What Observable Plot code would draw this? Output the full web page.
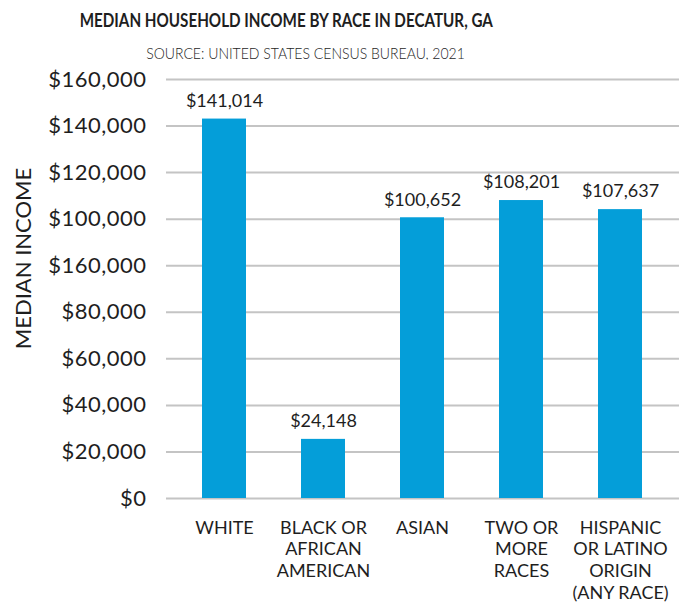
<!DOCTYPE html>
<html>
<head>
<meta charset="utf-8">
<script src="https://cdn.jsdelivr.net/npm/d3@7"></script>
<script src="https://cdn.jsdelivr.net/npm/@observablehq/plot@0.6"></script>
<style>
  html, body { margin: 0; padding: 0; background: #fff; }
  body { width: 679px; height: 602px; position: relative; font-family: Lato, "Noto Sans", sans-serif; color: #1e1e1e; overflow: hidden; }
  #title { position: absolute; left: 0; width: 572px; top: 8px; text-align: center; font-weight: 700; font-size: 19px; line-height: 24px; white-space: nowrap; }
  #subtitle { position: absolute; left: 0; width: 612px; top: 42px; text-align: center; font-weight: 300; font-size: 16.5px; line-height: 22px; white-space: nowrap; }
  #title span { display: inline-block; transform: scaleX(0.80); transform-origin: center; }
  #subtitle span { display: inline-block; transform: scaleX(0.85); transform-origin: center; }
  #chart { position: absolute; left: 0; top: 60px; }
  #chart g[aria-label="y-axis tick label"] text { letter-spacing: 0.5px; }
</style>
</head>
<body>
<div id="title"><span>MEDIAN HOUSEHOLD INCOME BY RACE IN DECATUR, GA</span></div>
<div id="subtitle"><span>SOURCE: UNITED STATES CENSUS BUREAU, 2021</span></div>
<div id="chart"></div>
<script>
// Categories (axis labels, with line breaks as in the reference)
const categories = [
  "WHITE",
  "BLACK OR\nAFRICAN\nAMERICAN",
  "ASIAN",
  "TWO OR\nMORE\nRACES",
  "HISPANIC\nOR LATINO\nORIGIN\n(ANY RACE)"
];
// Bar heights as drawn in the picture (read against the gridlines)
const barValues = [163000, 25400, 120600, 128000, 124100];
// Value labels printed above the bars
const valueLabels = ["$141,014", "$24,148", "$100,652", "$108,201", "$107,637"];
// Y gridline positions and their printed labels (as printed in the reference)
const yTicks = [0, 20000, 40000, 60000, 80000, 100000, 120000, 140000, 160000, 180000];
const yTickLabels = ["$0", "$20,000", "$40,000", "$60,000", "$80,000", "$160,000", "$100,000", "$120,000", "$140,000", "$160,000"];
const yTitle = "MEDIAN INCOME";

const data = categories.map((c, i) => ({cat: c, value: barValues[i], label: valueLabels[i]}));

const chart = Plot.plot({
  width: 679,
  height: 542,
  marginTop: 19,
  marginBottom: 104,
  marginLeft: 166,
  marginRight: 0,
  style: {fontFamily: "Lato, 'Noto Sans', sans-serif", color: "#1e1e1e", background: "#fff", overflow: "visible"},
  x: {type: "band", domain: categories, range: [201, 642], paddingInner: 0.557, paddingOuter: 0},
  y: {domain: [0, 180000]},
  marks: [
    Plot.ruleY(yTicks, {stroke: "#c4c4c4", strokeWidth: 2}),
    Plot.barY(data, {x: "cat", y: "value", fill: "#049ed9"}),
    Plot.text(data, {x: "cat", y: "value", text: "label", dy: -18, fontSize: 18, fill: "#1e1e1e"}),
    Plot.axisY(yTicks, {
      anchor: "left", tickSize: 0, tickPadding: 20, fontSize: 22, fill: "#1e1e1e",
      tickFormat: d => yTickLabels[yTicks.indexOf(d)], label: null
    }),
    Plot.axisX({
      anchor: "bottom", tickSize: 0, tickPadding: 20, fontSize: 18, lineHeight: 1.2,
      fill: "#1e1e1e", label: null
    }),
    Plot.text([yTitle], {
      frameAnchor: "left", textAnchor: "middle", rotate: -90, dx: -142.5, dy: -30.5, fontSize: 22, fill: "#1e1e1e"
    })
  ]
});
document.getElementById("chart").appendChild(chart);
</script>
</body>
</html>
